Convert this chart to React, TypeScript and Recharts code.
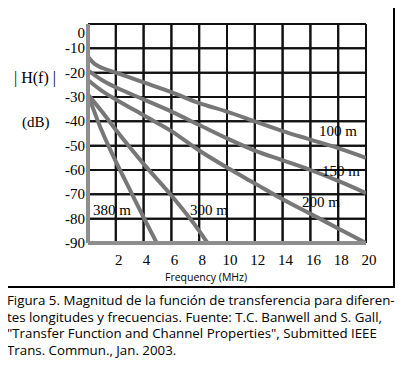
import React from 'react';
import { LineChart, Line, XAxis, YAxis, CartesianGrid } from 'recharts';

// Frequency (MHz) → |H(f)| (dB) per cable length
const len100 = [
  { x: 0, y: -13.5 },
  { x: 0.5, y: -16.5 },
  { x: 1, y: -18 },
  { x: 2, y: -20 },
  { x: 4, y: -24 },
  { x: 6, y: -28 },
  { x: 8, y: -32.5 },
  { x: 10, y: -36 },
  { x: 12, y: -40 },
  { x: 14, y: -44 },
  { x: 16, y: -47.5 },
  { x: 18, y: -51 },
  { x: 20, y: -55 },
];
const len150 = [
  { x: 0, y: -19 },
  { x: 1, y: -23 },
  { x: 2, y: -26 },
  { x: 4, y: -31 },
  { x: 6, y: -36 },
  { x: 8, y: -41.5 },
  { x: 10, y: -47 },
  { x: 12, y: -52 },
  { x: 14, y: -56 },
  { x: 16, y: -60 },
  { x: 18, y: -64.5 },
  { x: 20, y: -69.5 },
];
const len200 = [
  { x: 0, y: -23 },
  { x: 1, y: -27.5 },
  { x: 2, y: -31 },
  { x: 4, y: -37.5 },
  { x: 6, y: -44 },
  { x: 8, y: -52 },
  { x: 10, y: -59 },
  { x: 12, y: -65.5 },
  { x: 14, y: -72 },
  { x: 16, y: -78 },
  { x: 18, y: -84 },
  { x: 20, y: -90 },
];
const len300 = [
  { x: 0, y: -29 },
  { x: 1, y: -36 },
  { x: 2, y: -43.5 },
  { x: 4, y: -57.5 },
  { x: 6, y: -70.5 },
  { x: 8, y: -85 },
  { x: 8.6, y: -90 },
];
const len380 = [
  { x: 0, y: -29 },
  { x: 1, y: -44 },
  { x: 2, y: -56.5 },
  { x: 3, y: -68 },
  { x: 4, y: -79.5 },
  { x: 4.95, y: -90 },
];

const xTicks = [2, 4, 6, 8, 10, 12, 14, 16, 18, 20];
const yTicks = [0, -10, -20, -30, -40, -50, -60, -70, -80, -90];
const X_DOMAIN = [0, 20];
const Y_DOMAIN = [-90, 0];

const captionLines = [
  'Figura 5. Magnitud de la función de transferencia para diferen-',
  'tes longitudes y frecuencias. Fuente: T.C. Banwell and S. Gall,',
  '"Transfer Function and Channel Properties", Submitted IEEE',
  'Trans. Commun., Jan. 2003.',
];

const SERIF = 'Liberation Serif, DejaVu Serif, serif';
const SANS = 'Open Sans, DejaVu Sans, sans-serif';
const LINE_GRAY = '#777777';
const AXIS_GRAY = '#8e8e8e';
const GRID = '#111111';

// stable props, so the chart store is not re-fed new objects every render
const CHART_MARGIN = { top: 24, right: 38, bottom: 17, left: 48 };
const AXIS_LINE = { stroke: AXIS_GRAY, strokeWidth: 4 };

// grid rules built from the tick lists, drawn through the same scales
const gridRules = [
  ...yTicks
    .filter((v) => v !== Y_DOMAIN[0])
    .map((v) => ({ key: `h${v}`, data: [{ x: X_DOMAIN[0], y: v }, { x: X_DOMAIN[1], y: v }] })),
  ...xTicks.map((v) => ({ key: `v${v}`, data: [{ x: v, y: Y_DOMAIN[0] }, { x: v, y: Y_DOMAIN[1] }] })),
];

const YTick = (props: any) => (
  <text
    x={props.x}
    y={props.y}
    dy={props.payload.value === 0 ? 14 : 5}
    textAnchor="end"
    fontFamily={SERIF}
    fontSize={15}
    fill="#000"
  >
    {props.payload.value}
  </text>
);

const XTick = (props: any) => (
  <text x={props.x + 3} y={props.y} dy={20} textAnchor="middle" fontFamily={SERIF} fontSize={15} fill="#000">
    {props.payload.value}
  </text>
);

const serifText = (left: number, top: number, size = 15): React.CSSProperties => ({
  position: 'absolute',
  left,
  top,
  fontFamily: SERIF,
  fontSize: size,
  lineHeight: '16px',
  color: '#000',
  whiteSpace: 'pre',
});

const series = [
  { key: '100', data: len100 },
  { key: '150', data: len150 },
  { key: '200', data: len200 },
  { key: '300', data: len300 },
  { key: '380', data: len380 },
];

export default function App() {
  return (
    <div style={{ position: 'relative', margin: '-8px 0 0 -8px', width: 404, height: 366, background: '#fff' }}>
      <LineChart width={404} height={290} data={len200} margin={CHART_MARGIN}>
        <CartesianGrid stroke={GRID} strokeWidth={2} />
        <XAxis
          type="number"
          dataKey="x"
          domain={X_DOMAIN}
          ticks={xTicks}
          height={30}
          tickLine={false}
          tickSize={0}
          axisLine={AXIS_LINE}
          tick={XTick}
          allowDataOverflow
        />
        <YAxis
          type="number"
          domain={Y_DOMAIN}
          ticks={yTicks}
          width={40}
          tickLine={false}
          tickSize={0}
          tickMargin={3}
          axisLine={AXIS_LINE}
          tick={YTick}
          allowDataOverflow
        />
        {gridRules.map((g) => (
          <Line
            key={g.key}
            data={g.data}
            dataKey="y"
            type="linear"
            stroke={GRID}
            strokeWidth={2}
            dot={false}
            activeDot={false}
            legendType="none"
            isAnimationActive={false}
          />
        ))}
        {series.map((s) => (
          <Line
            key={s.key}
            data={s.data}
            dataKey="y"
            type="monotone"
            stroke={LINE_GRAY}
            strokeWidth={4}
            dot={false}
            isAnimationActive={false}
          />
        ))}
      </LineChart>

      <div
        style={{
          position: 'absolute',
          left: 3,
          top: 3,
          width: 392,
          height: 285,
          border: '2px solid #000',
          boxSizing: 'border-box',
          pointerEvents: 'none',
        }}
      />

      <div style={serifText(14, 70, 16)}>| H(f) |</div>
      <div style={serifText(22, 114)}>(dB)</div>

      <div style={serifText(319, 123)}>100 m</div>
      <div style={serifText(322, 163)}>150 m</div>
      <div style={serifText(302, 194)}>200 m</div>
      <div style={serifText(190, 202)}>300 m</div>
      <div style={serifText(93, 202)}>380 m</div>

      <div
        style={{
          position: 'absolute',
          left: 165,
          top: 270,
          fontFamily: SANS,
          fontSize: 10.5,
          lineHeight: '14px',
          color: '#000',
          whiteSpace: 'pre',
        }}
      >
        Frequency (MHz)
      </div>

      <div style={{ position: 'absolute', left: 7, top: 292, width: 395 }}>
        {captionLines.map((line) => (
          <div
            key={line}
            style={{
              fontFamily: SANS,
              fontSize: 13.3,
              lineHeight: '16.5px',
              color: '#000',
              whiteSpace: 'pre',
            }}
          >
            {line}
          </div>
        ))}
      </div>
    </div>
  );
}
